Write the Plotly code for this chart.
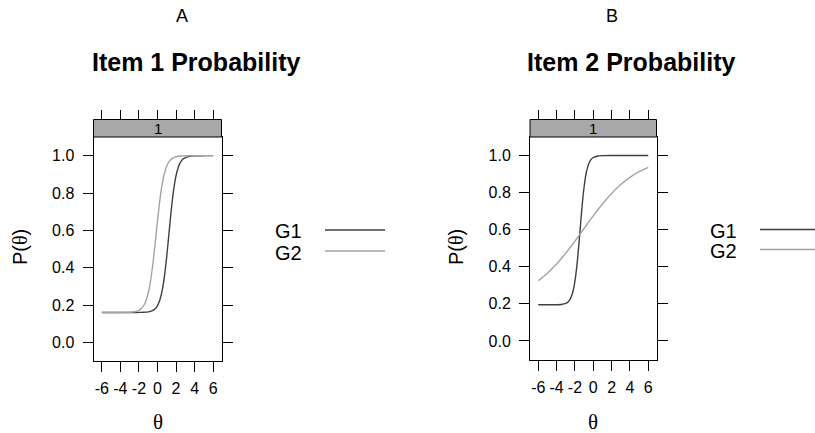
import plotly.graph_objects as go

W, H = 815, 433

# ---- data: item characteristic curves (theta vs probability) ----
groups = ["G1", "G2"]
panel_labels = ["A", "B"]
panel_titles = ["Item 1 Probability", "Item 2 Probability"]
strip_label = "1"

theta_ticks = [-6, -4, -2, 0, 2, 4, 6]
theta_ticktext = ["-6", "-4", "-2", "0", "2", "4", "6"]
prob_ticks = [0.0, 0.2, 0.4, 0.6, 0.8, 1.0]

# Item 1
theta_item1 = [-6, -5, -4, -3, -2.5, -2, -1.75, -1.5, -1.25, -1, -0.75, -0.5, -0.25,
               0, 0.25, 0.5, 0.75, 1, 1.25, 1.5, 1.75, 2, 2.25, 2.5, 2.75, 3, 3.5, 4, 5, 6]
item1_g1 = [0.160, 0.160, 0.160, 0.160, 0.160, 0.1603, 0.1605, 0.1609, 0.1617, 0.1632,
            0.1659, 0.1710, 0.1803, 0.1971, 0.2267, 0.2766, 0.3544, 0.4625, 0.5905,
            0.7166, 0.8201, 0.8931, 0.9392, 0.9663, 0.9816, 0.9901, 0.9971, 0.9992, 1.0, 1.0]
item1_g2 = [0.160, 0.160, 0.1601, 0.1612, 0.1638, 0.1718, 0.1807, 0.1960, 0.2220, 0.2642,
            0.3288, 0.4196, 0.5319, 0.6517, 0.7606, 0.8461, 0.9058, 0.9443, 0.9677,
            0.9815, 0.9895, 0.9941, 0.9966, 0.9981, 0.9989, 0.9994, 0.9998, 1.0, 1.0, 1.0]

# Item 2
theta_item2 = [-6, -5, -4, -3.5, -3, -2.75, -2.5, -2.25, -2, -1.75, -1.5, -1.25, -1,
               -0.75, -0.5, -0.25, 0, 0.5, 1, 2, 3, 4, 5, 6]
item2_g1 = [0.195, 0.195, 0.1954, 0.1967, 0.2024, 0.2105, 0.2272, 0.2601, 0.3215, 0.4228,
            0.5614, 0.7092, 0.8303, 0.9098, 0.9547, 0.9780, 0.9894, 0.9976, 0.9995,
            1.0, 1.0, 1.0, 1.0, 1.0]
item2_g2 = [0.3246, 0.3653, 0.4151, 0.4433, 0.4734, 0.4892, 0.5052, 0.5217, 0.5384, 0.5554,
            0.5724, 0.5896, 0.6069, 0.6242, 0.6413, 0.6582, 0.6750, 0.7077, 0.7389,
            0.7956, 0.8435, 0.8826, 0.9130, 0.9365]

line_colors = ["#3f3f3f", "#a3a3a3"]

FONT = "Liberation Sans, Arial, sans-serif"
SERIF = "Liberation Serif, Times New Roman, serif"


def px(x):
    return x / W


def py(y):
    return 1 - y / H


# panel geometry (pixels): plot box left/right/top/bottom, strip top
panels = [
    dict(left=93.5, right=221.5, top=137, bottom=361, strip_top=119.5,
         ylab_x=20, legend_text_x=273, legend_line=(325, 385), legend_y=(230, 251)),
    dict(left=530, right=656.5, top=137, bottom=359.5, strip_top=119.5,
         ylab_x=456, legend_text_x=708, legend_line=(760, 818), legend_y=(229.5, 249.5)),
]

series = [
    (theta_item1, [item1_g1, item1_g2]),
    (theta_item2, [item2_g1, item2_g2]),
]

fig = go.Figure()

for i, (theta, curves) in enumerate(series):
    xa = "x" if i == 0 else "x2"
    ya = "y" if i == 0 else "y2"
    for name, vals, col in zip(groups, curves, line_colors):
        fig.add_trace(go.Scatter(
            x=theta, y=vals, mode="lines", name=name, xaxis=xa, yaxis=ya,
            line=dict(color=col, width=1.4, shape="spline", smoothing=0.7),
            showlegend=False, hoverinfo="skip"))
    # empty trace so the top tick axis gets drawn
    fig.add_trace(go.Scatter(x=[], y=[], xaxis="x%d" % (i + 3), yaxis=ya,
                             showlegend=False, hoverinfo="skip"))

axis_common = dict(showgrid=False, zeroline=False, ticks="outside", ticklen=10,
                   tickwidth=1, tickcolor="black", linecolor="black", linewidth=1,
                   tickfont=dict(family=FONT, size=16, color="black"))

layout_axes = {}
for i, p in enumerate(panels):
    n = "" if i == 0 else "2"
    xdom = [px(p["left"]), px(p["right"])]
    ydom = [py(p["bottom"]), py(p["top"])]
    layout_axes["xaxis" + n] = dict(
        axis_common, domain=xdom, range=[-6.9, 6.9], anchor="y" + n,
        tickvals=theta_ticks, ticktext=theta_ticktext, tickangle=0,
        showline=True, mirror=True, ticklabelstandoff=3)
    layout_axes["yaxis" + n] = dict(
        axis_common, domain=ydom, range=[-0.1, 1.1], anchor="x" + n,
        tickvals=prob_ticks, tickformat=".1f", showline=True, mirror="ticks",
        ticklabelstandoff=5)
    layout_axes["xaxis%d" % (i + 3)] = dict(
        overlaying="x" + n, side="top", anchor="free", position=py(p["strip_top"]),
        range=[-6.9, 6.9], tickvals=theta_ticks, ticks="outside", ticklen=9.5,
        tickwidth=1, tickcolor="black", showticklabels=False, showline=False,
        showgrid=False, zeroline=False)


def label(text, x, y, size, family=FONT, xanchor="center", angle=0):
    return dict(text=text, xref="paper", yref="paper", x=px(x), y=py(y),
                xanchor=xanchor, yanchor="middle", textangle=angle, showarrow=False,
                font=dict(family=family, size=size, color="black"))


shapes = []
annotations = []
for i, p in enumerate(panels):
    n = "" if i == 0 else "2"
    cx = (p["left"] + p["right"]) / 2
    # strip above the panel
    shapes.append(dict(type="rect", xref="x%s domain" % n, yref="paper",
                       x0=0, x1=1, y0=py(p["top"]), y1=py(p["strip_top"]),
                       fillcolor="#a8a8a8", line=dict(color="black", width=1),
                       layer="above"))
    annotations.append(label(strip_label, cx, (p["top"] + p["strip_top"]) / 2, 15))
    # panel letter and title
    title_cx = 195.5 if i == 0 else 631
    letter_cx = 182 if i == 0 else 612
    annotations.append(label(panel_labels[i], letter_cx, 16, 18))
    annotations.append(label("<b>%s</b>" % panel_titles[i], title_cx, 62, 25))
    # axis labels
    annotations.append(label("P(<span style='font-family:Liberation Serif'>θ</span>)",
                             p["ylab_x"], 247, 20, angle=-90))
    annotations.append(label("θ", cx, 422, 21, family=SERIF))
    # key: group names followed by line samples
    for name, col, ly in zip(groups, line_colors, p["legend_y"]):
        annotations.append(label(name, p["legend_text_x"], ly + 1.5, 20, xanchor="left"))
        shapes.append(dict(type="line", xref="paper", yref="paper",
                           x0=px(p["legend_line"][0]), x1=px(p["legend_line"][1]),
                           y0=py(ly), y1=py(ly), line=dict(color=col, width=1.4)))

fig.update_layout(
    width=W, height=H, margin=dict(l=0, r=0, t=0, b=0),
    paper_bgcolor="white", plot_bgcolor="white",
    font=dict(family=FONT, color="black"),
    shapes=shapes, annotations=annotations, showlegend=False,
    **layout_axes)

fig.write_html("out.html")
